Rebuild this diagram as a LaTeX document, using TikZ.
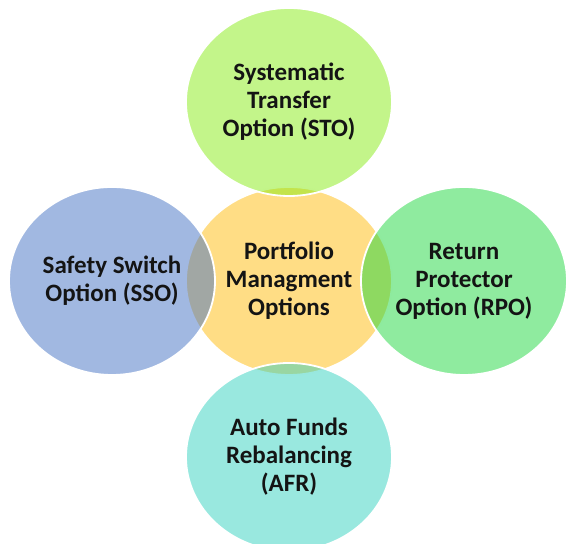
\documentclass[tikz,border=0pt]{standalone}
\usepackage{fontspec}
\setmainfont{Carlito}
\usetikzlibrary{shapes.geometric}

\definecolor{pmoGold}{RGB}{255,187,11}
\definecolor{stoLime}{RGB}{135,235,21}
\definecolor{ssoBlue}{RGB}{68,114,196}
\definecolor{rpoGreen}{RGB}{31,215,63}
\definecolor{afrTeal}{RGB}{51,209,191}

\begin{document}
\begin{tikzpicture}[x=0.5pt,y=-0.5pt,
    bubble/.style={ellipse,minimum width=103pt,minimum height=94pt,inner sep=0pt,
      draw=white,line width=0.9pt,fill opacity=0.5,text opacity=1,align=center,
      font=\fontsize{12.5}{14}\selectfont\bfseries,text=black!92}]
  \useasboundingbox (0,0) rectangle (568,544);
  \draw
    (289,281) node[bubble,fill=pmoGold] (pmo) {Portfolio\\Managment\\Options};
  \begin{scope}
    \draw (289,102) node[bubble,fill=stoLime] (sto) {Systematic\\Transfer\\Option (STO)};
    \draw (112,281) node[bubble,fill=ssoBlue] (sso) {Safety Switch\\Option (SSO)};
    \draw (464,281) node[bubble,fill=rpoGreen] (rpo) {Return\\Protector\\Option (RPO)};
    \draw (289,457) node[bubble,fill=afrTeal] (afr) {Auto Funds\\Rebalancing\\(AFR)};
  \end{scope}
\end{tikzpicture}
\end{document}
